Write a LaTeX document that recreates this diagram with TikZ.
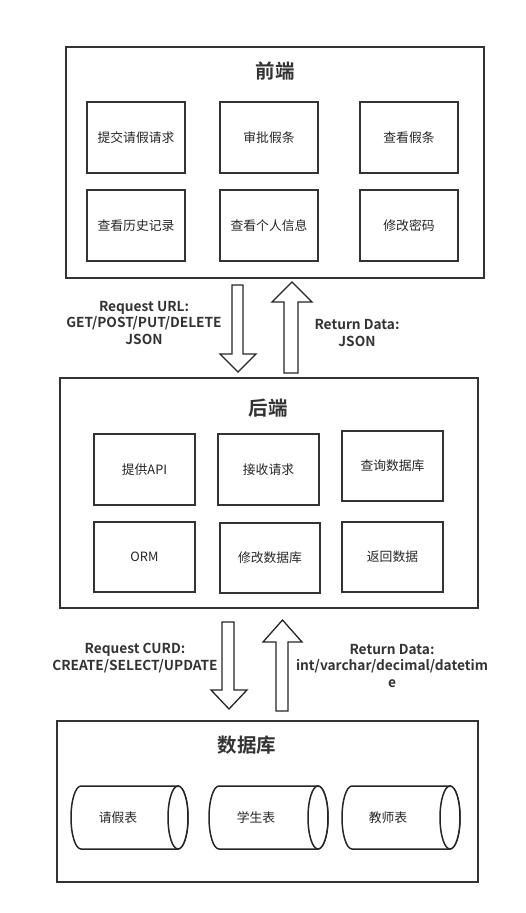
\documentclass[tikz,border=0pt]{standalone}
\usepackage{fontspec}
\setmainfont{Noto Sans CJK SC}[BoldFont={Noto Sans CJK SC Bold}]
\tikzset{
  x=1pt, y=1pt,
  outerbox/.style={draw=black!80, line width=1.5pt, minimum width=#1, inner sep=0pt},
  innerbox/.style={draw=black!80, line width=1.5pt, inner sep=0pt, text=black!85,
    font=\fontsize{12.8}{14}\selectfont},
  titletext/.style={font=\fontsize{19.5}{22}\selectfont\bfseries, text=black!80},
  lbl/.style={font=\fontsize{13.7}{16.3}\selectfont\bfseries, align=center, text=black!80},
  blockarrow/.style={draw=black!85, line width=1.3pt, fill=white, line join=miter},
  cyl/.style={draw=black!85, line width=1.5pt, fill=white},
  cyltext/.style={font=\fontsize{12.8}{14}\selectfont, text=black!85}
}
\begin{document}
\begin{tikzpicture}
\useasboundingbox (0,0) rectangle (526,-913);
% ---------- Frontend ----------
\node[outerbox=418, minimum height=231] (fe) at (275,-162.5) {};
\node[titletext] (fet) at (275,-71) {前端};
\foreach \n/\x/\y/\t in {f1/136/137.5/提交请假请求, f2/269/137.5/审批假条, f3/409/137.5/查看假条,
                        f4/136/225.5/查看历史记录, f5/269/225.5/查看个人信息, f6/409/225.5/修改密码}
  \node[innerbox, minimum width=98, minimum height=71] (\n) at (\x,-\y) {\t};
% ---------- Backend ----------
\node[outerbox=418, minimum height=230] (be) at (269,-493) {};
\node[titletext] (bet) at (268,-408) {后端};
\node[innerbox, minimum width=101, minimum height=71] (b1) at (144.5,-469.5) {提供API};
\node[innerbox, minimum width=101, minimum height=71] (b2) at (268.5,-469.5) {接收请求};
\node[innerbox, minimum width=101, minimum height=70] (b3) at (392.5,-466) {查询数据库};
\node[innerbox, minimum width=101, minimum height=70] (b4) at (144.5,-557) {ORM};
\node[innerbox, minimum width=100, minimum height=70] (b5) at (270,-558) {修改数据库};
\node[innerbox, minimum width=101, minimum height=70] (b6) at (392.5,-557) {返回数据};
% ---------- Database ----------
\node[outerbox=421, minimum height=161] (db) at (267.5,-801.5) {};
\node[titletext] (dbt) at (247,-745) {数据库};
\foreach \n/\l/\r/\tx/\t in {c1/71/188/118/请假表, c2/209/328/256/学生表, c3/342/460/388/教师表}{
  \draw[cyl] (\l+10,-786) -- (\r-10,-786) arc[start angle=90, end angle=-90, x radius=10, y radius=31.5]
     -- (\l+10,-849) arc[start angle=270, end angle=90, x radius=10, y radius=31.5] -- cycle;
  \draw[cyl] (\r-10,-817.5) ellipse[x radius=10, y radius=31.5];
  \node[cyltext] (\n) at (\tx,-818) {\t};
}
% ---------- Arrows frontend <-> backend ----------
\draw[blockarrow] (232,-285) -- (243,-285) -- (243,-354) -- (256,-354) -- (238,-372)
   -- (220,-354) -- (232,-354) -- cycle;
\draw[blockarrow] (284,-373) -- (298,-373) -- (298,-302) -- (312,-302) -- (292,-282)
   -- (272,-302) -- (284,-302) -- cycle;
\node[lbl] (req1) at (144,-323) {Request URL:\\GET/POST/PUT/DELETE\\JSON};
\node[lbl] (ret1) at (357,-333) {Return Data:\\JSON};
% ---------- Arrows backend <-> database ----------
\draw[blockarrow] (222,-622) -- (234,-622) -- (234,-690) -- (247,-690) -- (229,-709)
   -- (211,-690) -- (222,-690) -- cycle;
\draw[blockarrow] (276,-711) -- (288,-711) -- (288,-642) -- (302,-642) -- (282.5,-620)
   -- (263,-642) -- (276,-642) -- cycle;
\node[lbl] (req2) at (135,-658) {Request CURD:\\CREATE/SELECT/UPDATE};
\node[lbl] (ret2) at (392,-666) {Return Data:\\int/varchar/decimal/datetim\\e};
\end{tikzpicture}
\end{document}
